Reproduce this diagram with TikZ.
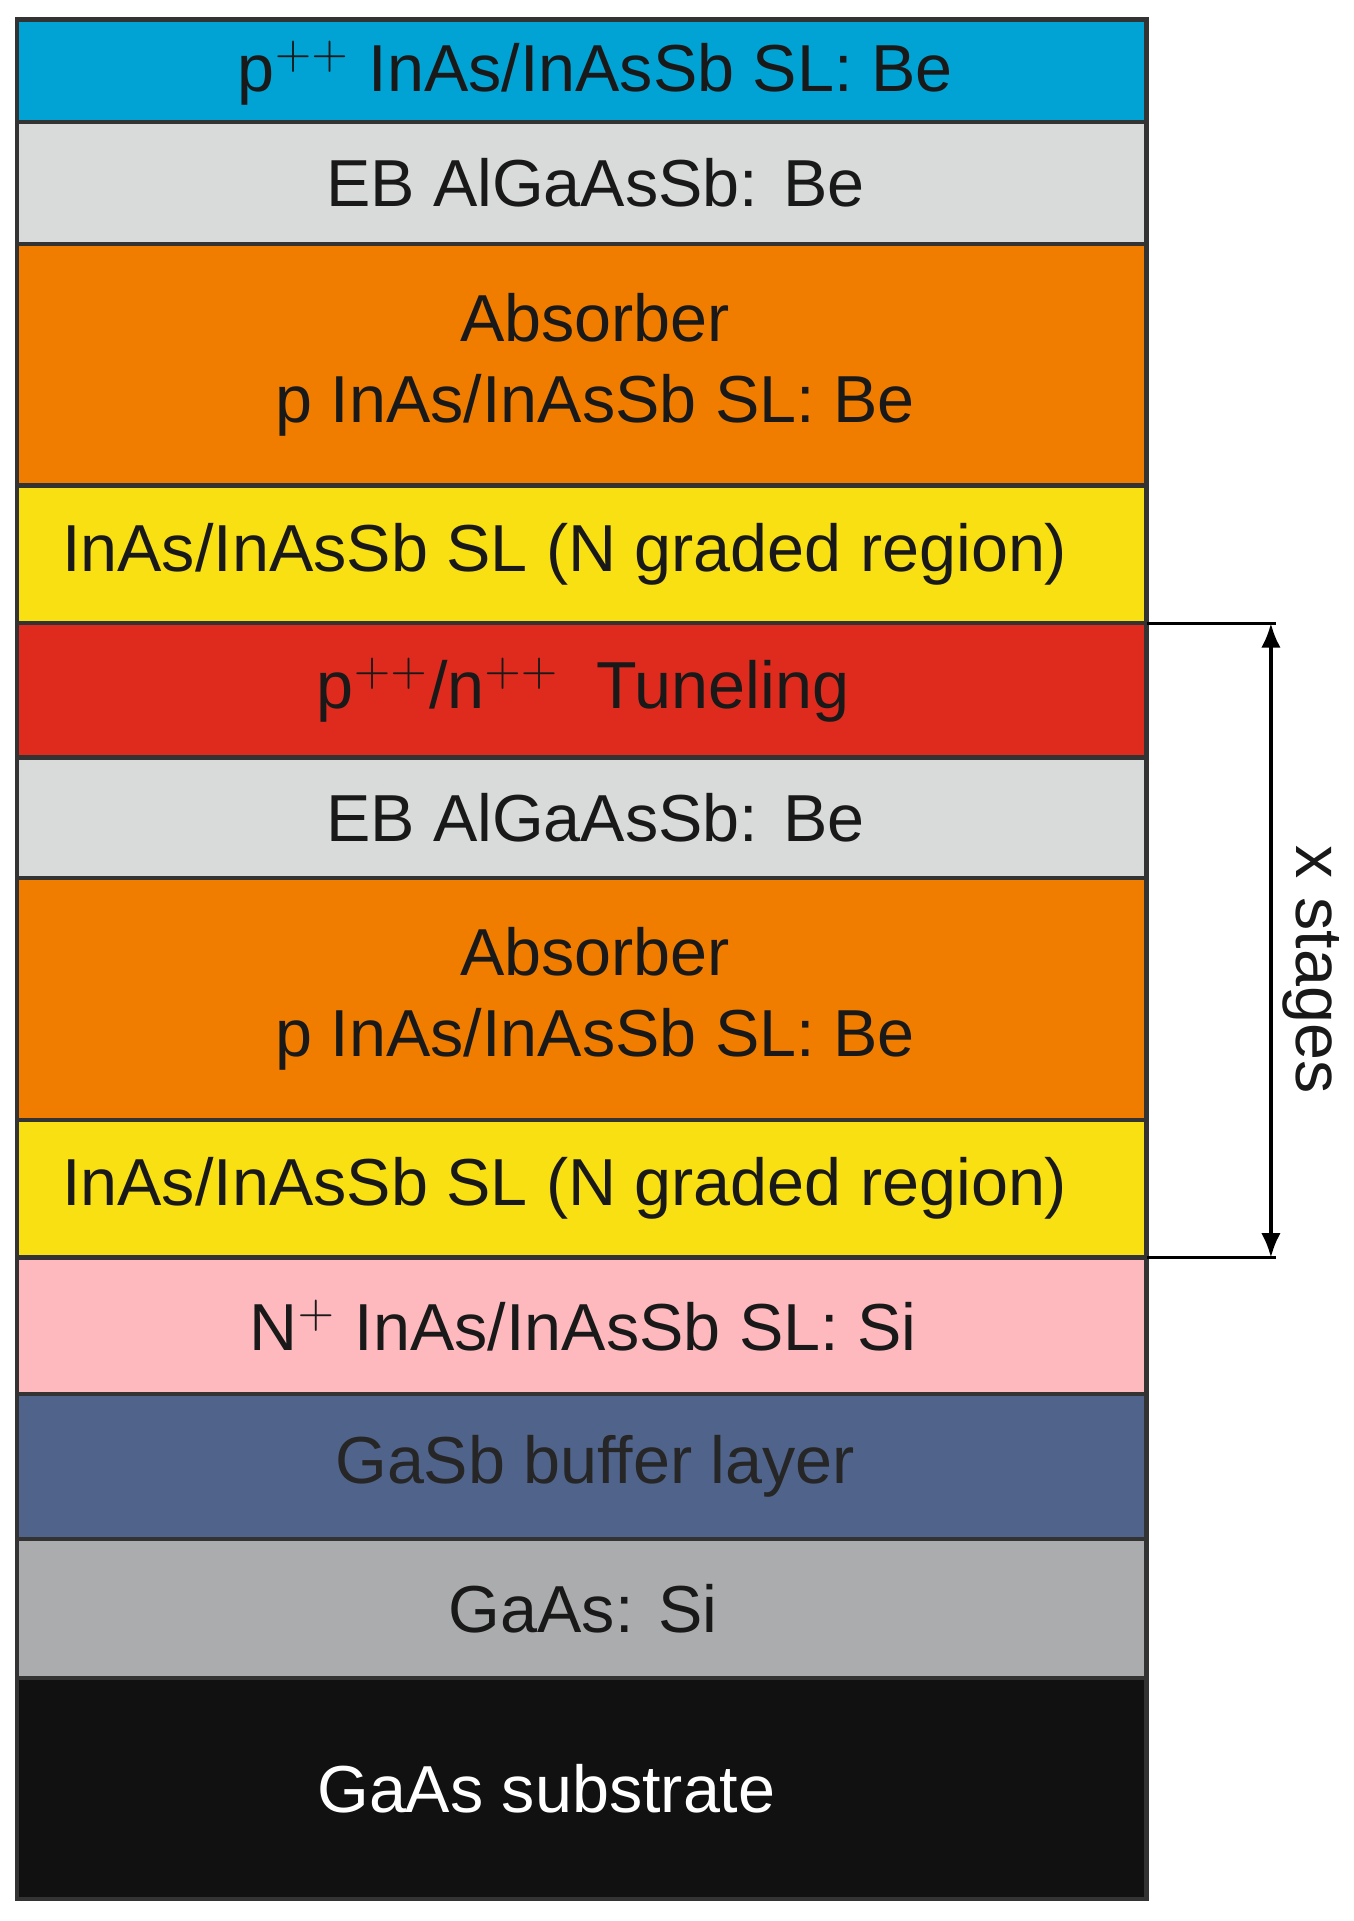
\documentclass[tikz,border=0pt]{standalone}
\usepackage{fontspec}
\setmainfont{Liberation Sans}
\usetikzlibrary{arrows.meta}
\definecolor{cA}{HTML}{00A3D3}
\definecolor{cB}{HTML}{D9DADA}
\definecolor{cC}{HTML}{F07D00}
\definecolor{cD}{HTML}{F9E012}
\definecolor{cE}{HTML}{DE2B1E}
\definecolor{cF}{HTML}{FDB9BD}
\definecolor{cG}{HTML}{50638B}
\definecolor{cH}{HTML}{ABACAD}
\definecolor{cI}{HTML}{111111}
\begin{document}
\begin{tikzpicture}[x=0.01cm,y=-0.01cm,
 lay/.style={draw=black!80,line width=1pt},
 txt/.style={font=\fontsize{15.5pt}{19pt}\selectfont,align=center,text=black!90}]
\useasboundingbox (0,0) rectangle (1110,1575);
\def\L{14}\def\R{940}
\foreach \a/\b/\c/\n in {16/100/cA/l1,100/200/cB/l2,200/398/cC/l3,398/511/cD/l4,511/621/cE/l5,621/720/cB/l6,720/918/cC/l7,918/1031/cD/l8,1031/1143/cF/l9,1143/1262/cG/l10,1262/1376/cH/l11,1376/1557/cI/l12}
  {\path[lay,fill=\c] (\L,\a) rectangle (\R,\b); \coordinate (\n) at (488,{(\a+\b)/2});}
\node[txt] at ([yshift=-0.02cm]l1) {p$^{++}$ InAs/InAsSb SL: Be};
\node[txt] at (l2) {EB AlGaAsSb: Be};
\node[txt] at (l3) {Absorber\\p InAs/InAsSb SL: Be};
\node[txt] at ([xshift=-0.25cm]l4) {InAs/InAsSb SL (N graded region)};
\node[txt] at ([xshift=-0.1cm]l5) {p$^{++}$/n$^{++}$\ \ Tuneling};
\node[txt] at (l6) {EB AlGaAsSb: Be};
\node[txt] at (l7) {Absorber\\p InAs/InAsSb SL: Be};
\node[txt] at ([xshift=-0.25cm]l8) {InAs/InAsSb SL (N graded region)};
\node[txt] at ([xshift=-0.1cm]l9) {N$^{+}$ InAs/InAsSb SL: Si};
\node[txt,text=black!85] at (l10) {GaSb buffer layer};
\node[txt] at ([xshift=-0.1cm]l11) {GaAs: Si};
\node[txt,text=white] at ([xshift=-0.4cm]l12) {GaAs substrate};
\coordinate (t0) at (\R,511); \coordinate (t1) at (1046,511);
\coordinate (b0) at (\R,1031); \coordinate (b1) at (1046,1031);
\coordinate (at) at (1042,511); \coordinate (ab) at (1042,1031);
\draw[line width=0.8pt] (t0)--(t1) (b0)--(b1);
\draw[line width=0.8pt,{Latex[length=0.2cm,width=0.16cm]}-{Latex[length=0.2cm,width=0.16cm]}] (at)--(ab);
\node[txt,rotate=-90] (xs) at (1075,795) {x stages};
\end{tikzpicture}
\end{document}
